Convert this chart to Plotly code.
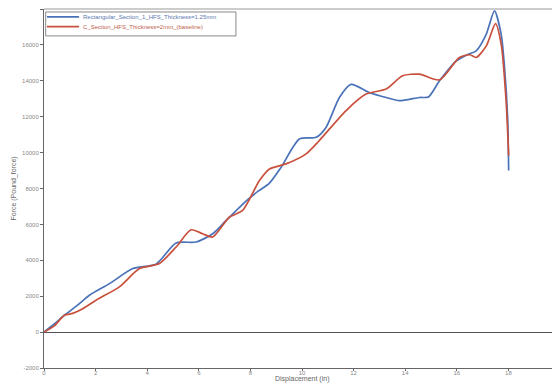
import plotly.graph_objects as go

# Rectangular_Section_1_HFS_Thickness=1.25mm
rect_x = [0, 0.4, 0.79, 1.3, 1.76, 2.54, 3.44, 4.35, 5.12, 5.9, 6.54, 7.06, 7.83, 8.3, 8.74, 9.19,
          9.9, 10.55, 10.93, 11.45, 11.9, 12.6, 13.26, 13.78, 14.55, 14.9, 15.33, 15.97, 16.4, 16.75,
          17.14, 17.46, 17.72, 17.85, 17.97, 18.01]
rect_y = [0, 450, 940, 1500, 2050, 2700, 3540, 3800, 4960, 5020, 5480, 6220, 7300, 7850, 8300, 9180,
          10760, 10850, 11400, 13070, 13800, 13350, 13070, 12890, 13070, 13100, 14000, 15100, 15450, 15670,
          16590, 17890, 16590, 14740, 11960, 9000]

# C_Section_HFS_Thickness=2mm_(baseline)
csec_x = [0, 0.4, 0.79, 1.11, 1.5, 2.02, 2.92, 3.7, 4.47, 5.12, 5.7, 6.15, 6.54, 7.18, 7.7, 8.35,
          8.74, 9.38, 10.16, 10.67, 11.7, 12.48, 13.26, 13.9, 14.55, 15.33, 16.1, 16.5, 16.75, 17.14,
          17.5, 17.72, 17.91, 18.01]
csec_y = [0, 350, 940, 1040, 1300, 1780, 2520, 3540, 3820, 4740, 5700, 5480, 5300, 6400, 6780, 8440,
          9090, 9370, 9930, 10670, 12330, 13260, 13540, 14280, 14370, 14050, 15300, 15450, 15300, 15930,
          17180, 16040, 12890, 9830]

series_names = ["Rectangular_Section_1_HFS_Thickness=1.25mm", "C_Section_HFS_Thickness=2mm_(baseline)"]
x_ticks = [0, 2, 4, 6, 8, 10, 12, 14, 16, 18, 20]
y_ticks = [-2000, 0, 2000, 4000, 6000, 8000, 10000, 12000, 14000, 16000, 18000]

BLUE = "#4a72b8"
RED = "#c8503c"
TEXT_COLORS = ["#5a78b0", "#c0604c"]

fig = go.Figure()
for xs, ys, col, nm in [(rect_x, rect_y, BLUE, series_names[0]), (csec_x, csec_y, RED, series_names[1])]:
    fig.add_trace(go.Scatter(x=xs, y=ys, mode="lines", name=nm,
                             line=dict(color=col, width=1.7, shape="spline", smoothing=0.7)))

# page body has an 8px margin, so the figure is 552x377 and starts at (8, 8)
fig.update_layout(
    width=552, height=377,
    margin=dict(l=36, r=0, t=1, b=17),
    paper_bgcolor="white", plot_bgcolor="white",
    font=dict(family="Liberation Sans, Arial, sans-serif", size=6, color="#777777"),
    showlegend=False,
    xaxis=dict(range=[0, 20], tickvals=x_ticks, ticktext=[str(v) for v in x_ticks],
               showgrid=False, zeroline=False,
               showline=True, linecolor="#666666", linewidth=1,
               ticks="outside", ticklen=2, tickcolor="#666666",
               ticklabelstandoff=-3,
               tickfont=dict(size=6, color="#888888")),
    yaxis=dict(range=[-2000, 18000], tickvals=y_ticks, ticktext=[str(v) for v in y_ticks],
               showgrid=False,
               zeroline=True, zerolinecolor="#555555", zerolinewidth=1,
               showline=True, linecolor="#666666", linewidth=1,
               ticks="outside", ticklen=3, tickcolor="#666666",
               tickfont=dict(size=6, color="#888888")),
)
# top border line of plot area
fig.add_shape(type="line", xref="paper", yref="paper", x0=0, x1=1, y0=1, y1=1,
              line=dict(color="#999999", width=1))

# axis titles
fig.add_annotation(text="Displacement (in)", xref="paper", yref="paper", x=0.5, y=-0.031,
                   xanchor="center", yanchor="middle", showarrow=False,
                   font=dict(size=7, color="#666666"))
fig.add_annotation(text="Force (Pound_force)", xref="paper", yref="paper", x=-0.060, y=0.5,
                   xanchor="center", yanchor="middle", textangle=-90, showarrow=False,
                   font=dict(size=7, color="#666666"))

# legend box
fig.add_shape(type="rect", xref="paper", yref="paper", x0=0.0033, x1=0.372, y0=0.925, y1=0.9917,
              line=dict(color="#888888", width=1), fillcolor="white", layer="above")
for i, (col, nm) in enumerate([(BLUE, series_names[0]), (RED, series_names[1])]):
    yy = 0.978 - i * 0.027
    fig.add_shape(type="line", xref="paper", yref="paper", x0=0.0058, x1=0.068, y0=yy, y1=yy,
                  line=dict(color=col, width=1.6), layer="above")
    fig.add_annotation(text=nm, xref="paper", yref="paper", x=0.0717, y=yy,
                       xanchor="left", yanchor="middle", showarrow=False,
                       font=dict(size=6, color=TEXT_COLORS[i]))

fig.write_html("out.html")
